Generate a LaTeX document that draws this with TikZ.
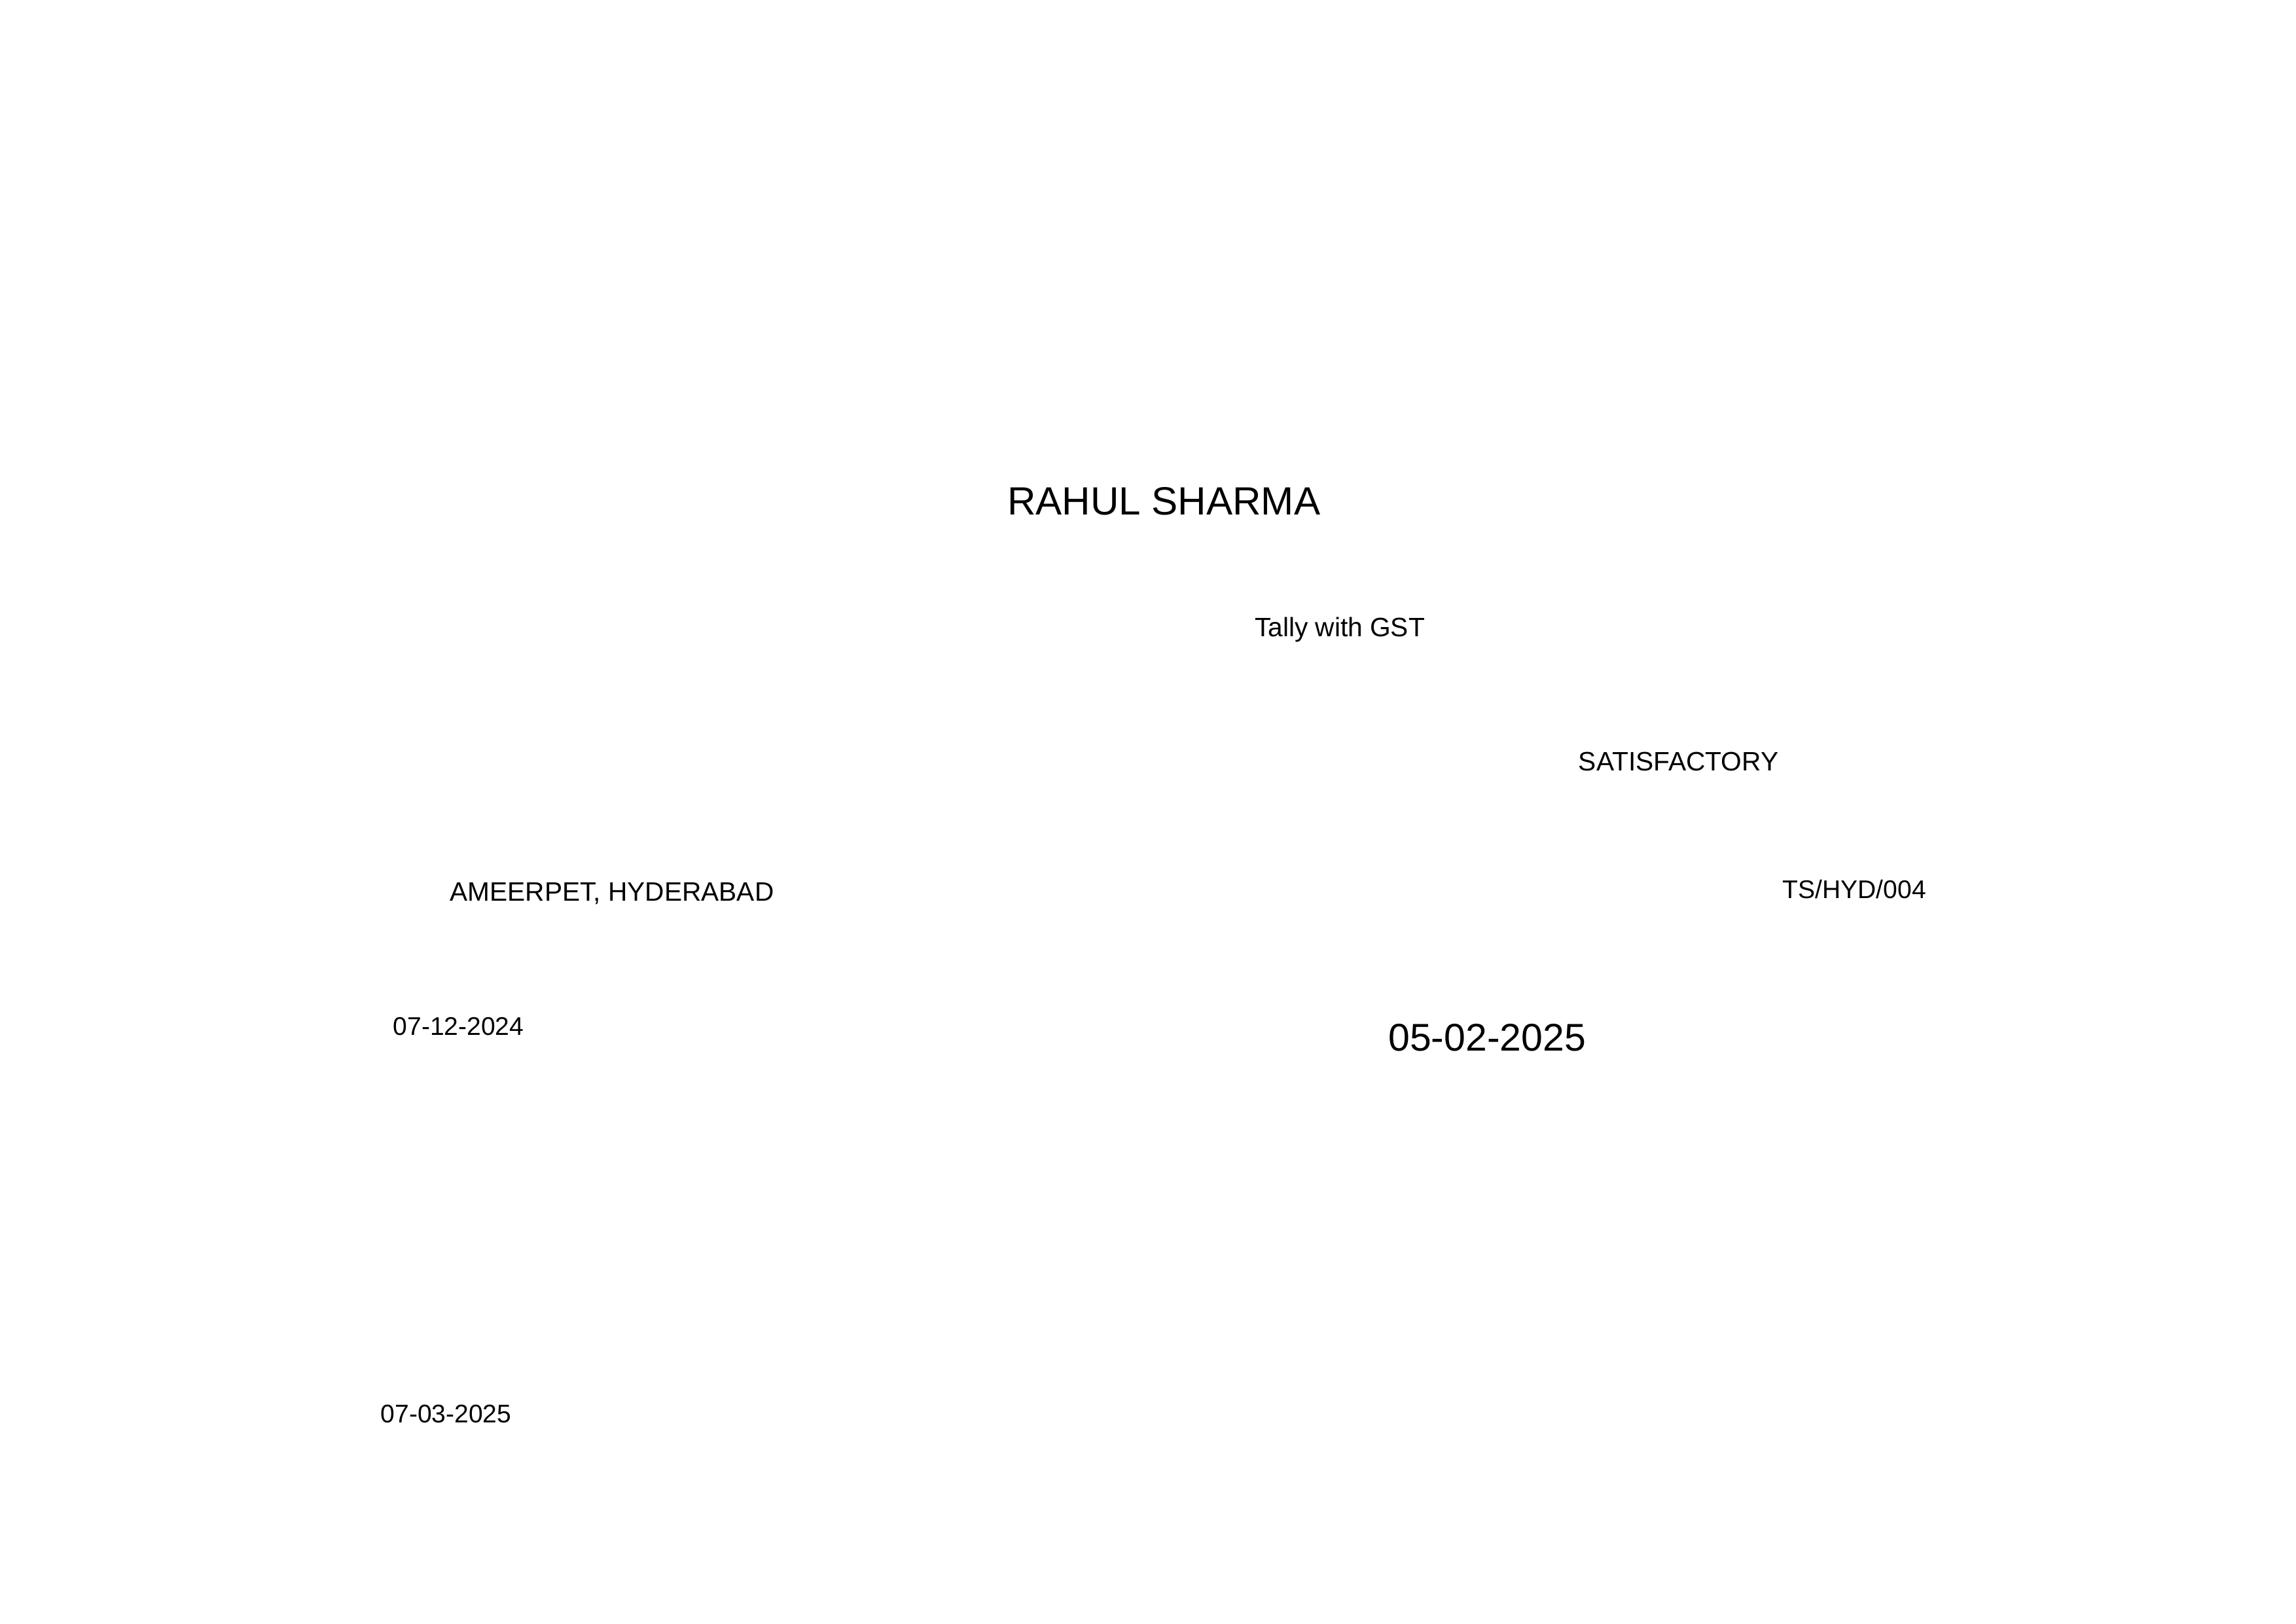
\documentclass[tikz,border=0pt]{standalone}
\usepackage{fontspec}
\setmainfont{Liberation Sans}
\begin{document}
\begin{tikzpicture}[x=1mm,y=-1mm,
  lbl/.style={anchor=base west,inner sep=0pt,outer sep=0pt,text=black},
  small/.style={lbl,font=\fontsize{9.4}{11}\selectfont},
  smallw/.style={lbl,font=\fontsize{9.8}{11}\selectfont},
  big/.style={lbl,font=\fontsize{14.2}{17}\selectfont},
  bigw/.style={lbl,font=\fontsize{14.5}{17}\selectfont}]
\useasboundingbox[fill=white] (0,0) rectangle (297,210);
\node[bigw]   (name)   at (130.3,66.55) {RAHUL SHARMA};
\node[smallw] (course) at (162.3,82.3)  {Tally with GST};
\node[smallw] (result) at (204.2,99.65) {SATISFACTORY};
\node[smallw] (place)  at (58.2,116.5)  {AMEERPET, HYDERABAD};
\node[small]  (code)   at (230.6,116.2) {TS/HYD/004};
\node[small]  (from)   at (50.85,133.9) {07-12-2024};
\node[big]    (issue)  at (179.6,135.9) {05-02-2025};
\node[small]  (date)   at (49.25,184.0) {07-03-2025};
\end{tikzpicture}
\end{document}
